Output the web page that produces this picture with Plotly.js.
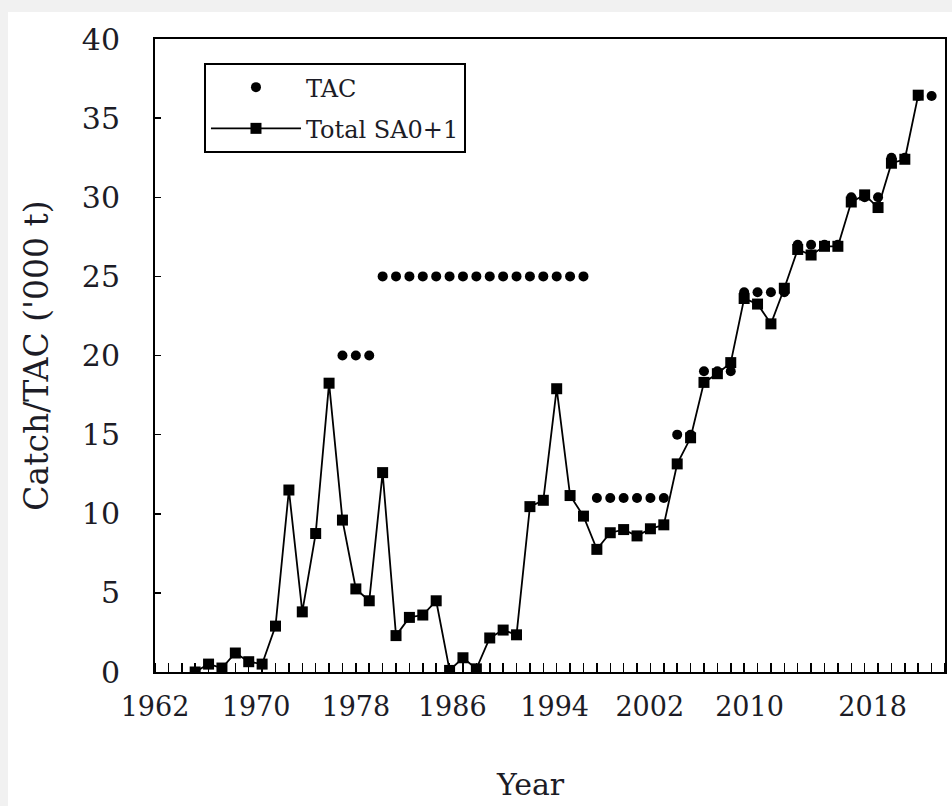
<!DOCTYPE html>
<html>
<head>
<meta charset="utf-8">
<script src="https://cdn.plot.ly/plotly-3.0.1.min.js"></script>
<style>
  html, body { margin: 0; padding: 0; background: #f1f1f1; width: 952px; height: 806px; overflow: hidden; }
  #plot { position: absolute; left: 8px; top: 12px; width: 944px; height: 794px; background: #ffffff; }
</style>
</head>
<body>
<div id="plot"></div>
<script>
// Total SA0+1 catch ('000 t)
const catchYears = [1965,1966,1967,1968,1969,1970,1971,1972,1973,1974,1975,1976,1977,1978,1979,1980,1981,1982,1983,1984,1985,1986,1987,1988,1989,1990,1991,1992,1993,1994,1995,1996,1997,1998,1999,2000,2001,2002,2003,2004,2005,2006,2007,2008,2009,2010,2011,2012,2013,2014,2015,2016,2017,2018,2019];
const catchValues = [0.0,0.5,0.25,1.2,0.65,0.5,2.9,11.5,3.8,8.75,18.25,9.6,5.25,4.5,12.6,2.3,3.45,3.6,4.5,0.1,0.9,0.2,2.15,2.65,2.35,10.45,10.85,17.9,11.15,9.85,7.75,8.8,9.0,8.6,9.05,9.3,13.15,14.8,18.3,18.85,19.55,23.6,23.25,22.0,24.25,26.7,26.35,26.9,26.9,29.7,30.15,29.35,32.15,32.4,36.45];

// TAC ('000 t)
const tacYears = [1976,1977,1978,1979,1980,1981,1982,1983,1984,1985,1986,1987,1988,1989,1990,1991,1992,1993,1994,1995,1996,1997,1998,1999,2000,2001,2002,2003,2004,2005,2006,2007,2008,2009,2010,2011,2012,2013,2014,2015,2016,2017,2018,2019,2020];
const tacValues = [20,20,20,25,25,25,25,25,25,25,25,25,25,25,25,25,25,25,25,11,11,11,11,11,11,15,15,19,19,19,24,24,24,24,27,27,27,27,30,30,30,32.5,32.5,36.4,36.4];

// Axis labels (the year labels sit where the original figure printed them)
const xTickText = ["1962","1970","1978","1986","1994","2002","2010","2018"];
const xTickPos  = [1962,1969.55,1977.0,1984.2,1991.85,1998.95,2006.4,2015.6];
const yTickVals = [0,5,10,15,20,25,30,35,40];

const serif = "DejaVu Serif, Liberation Serif, serif";
const ink = "#1c1c26";

const traces = [
  {
    x: tacYears, y: tacValues, name: "TAC", legendgroup: "a",
    type: "scatter", mode: "markers",
    marker: { symbol: "circle", size: 10, color: "#000000" }
  },
  {
    x: catchYears, y: catchValues, name: "Total SA0+1", legendgroup: "b",
    type: "scatter", mode: "lines+markers",
    line: { color: "#000000", width: 1.8 },
    marker: { symbol: "square", size: 11, color: "#000000" }
  }
];

const layout = {
  width: 944, height: 794,
  paper_bgcolor: "#ffffff", plot_bgcolor: "#ffffff",
  margin: { l: 147, r: 7, t: 27, b: 134 },
  font: { family: serif, color: ink, size: 26 },
  showlegend: true,
  legend: {
    x: 0.062, y: 0.962, xanchor: "left", yanchor: "top",
    bgcolor: "#ffffff", bordercolor: "#000000", borderwidth: 2,
    font: { family: serif, size: 24, color: ink },
    itemwidth: 90, traceorder: "grouped", tracegroupgap: 7
  },
  xaxis: {
    range: [1962, 2021],
    tickmode: "array", tickvals: xTickPos, ticktext: xTickText,
    ticks: "",
    minor: { tickmode: "linear", tick0: 1962, dtick: 1, ticks: "inside", ticklen: 9, tickwidth: 1.5, tickcolor: "#000000", showgrid: false },
    showline: true, linecolor: "#000000", linewidth: 2, mirror: true,
    showgrid: false, zeroline: false,
    ticklabelstandoff: 10,
    tickfont: { family: serif, size: 27, color: ink }
  },
  yaxis: {
    range: [0, 40],
    tickmode: "array", tickvals: yTickVals,
    ticks: "inside", ticklen: 6, tickwidth: 1.5, tickcolor: "#000000",
    showline: true, linecolor: "#000000", linewidth: 2, mirror: true,
    showgrid: false, zeroline: false,
    ticklabelstandoff: 27,
    tickfont: { family: serif, size: 30, color: ink },
    title: { text: "Catch/TAC ('000 t)", font: { family: serif, size: 33, color: ink }, standoff: 23 }
  },
  annotations: [
    { text: "Year", xref: "paper", yref: "paper", x: 0.4747, y: -0.1785,
      xanchor: "center", yanchor: "middle", showarrow: false,
      font: { family: serif, size: 30, color: ink } }
  ]
};

Plotly.newPlot("plot", traces, layout, { staticPlot: true, displayModeBar: false });
</script>
</body>
</html>
